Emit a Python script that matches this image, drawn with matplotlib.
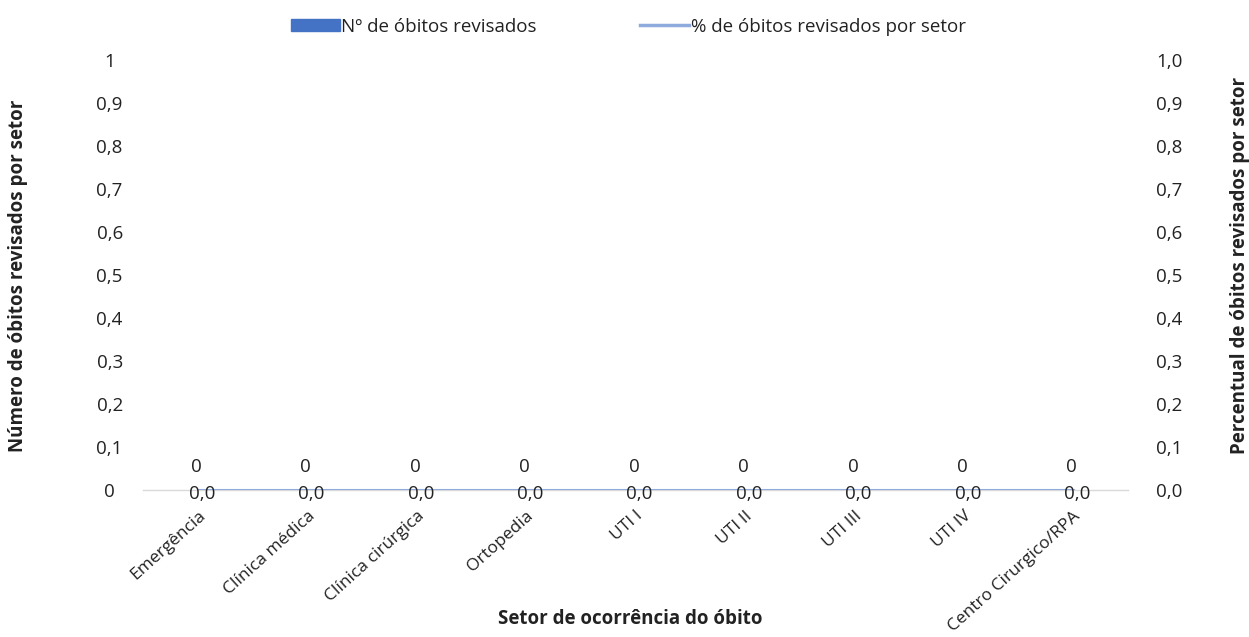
import matplotlib.pyplot as plt
from matplotlib.lines import Line2D
from matplotlib.patches import Patch

plt.rcParams['font.family'] = ['Open Sans', 'DejaVu Sans']

setores = ["Emergência", "Clínica médica", "Clínica cirúrgica", "Ortopedia",
           "UTI I", "UTI II", "UTI III", "UTI IV", "Centro Cirurgico/RPA"]
obitos_revisados = [0, 0, 0, 0, 0, 0, 0, 0, 0]
pct_revisados = [0.0, 0.0, 0.0, 0.0, 0.0, 0.0, 0.0, 0.0, 0.0]

left_ticks = [0, 0.1, 0.2, 0.3, 0.4, 0.5, 0.6, 0.7, 0.8, 0.9, 1]
right_ticks = [0.0, 0.1, 0.2, 0.3, 0.4, 0.5, 0.6, 0.7, 0.8, 0.9, 1.0]

bar_color = "#4472C4"
line_color = "#8FAADC"
text_color = "#222222"
fs = 13.5

fig = plt.figure(figsize=(12.49, 6.37), dpi=100)
ax = fig.add_axes([0.1145, 0.2308, 0.7885, 0.6752])
ax2 = ax.twinx()

x = list(range(len(setores)))
ax.bar(x, obitos_revisados, width=0.5, color=bar_color, zorder=2)
ax2.plot(x, pct_revisados, color=line_color, linewidth=2.2, zorder=3)

ax.set_xlim(-0.5, len(setores) - 0.5)
ax.set_ylim(0, 1)
ax2.set_ylim(0, 1)

ax.set_yticks(left_ticks)
ax.set_yticklabels([f"{v:g}".replace(".", ",") for v in left_ticks], ha="center")
ax2.set_yticks(right_ticks)
ax2.set_yticklabels([f"{v:.1f}".replace(".", ",") for v in right_ticks], ha="center")

ax.set_xticks(x)
ax.set_xticklabels(setores, rotation=42, ha="right", rotation_mode="anchor",
                   fontsize=12.5)

for a in (ax, ax2):
    for s in a.spines.values():
        s.set_visible(False)
    a.tick_params(axis="y", length=0, labelsize=fs, colors=text_color)
ax.tick_params(axis="x", length=0, colors=text_color, pad=13)
ax.tick_params(axis="y", pad=24)
ax2.tick_params(axis="y", pad=30)
ax.spines["bottom"].set_visible(True)
ax.spines["bottom"].set_color("#D9D9D9")
ax.spines["bottom"].set_linewidth(1)

for xi, v in zip(x, obitos_revisados):
    ax.annotate(f"{v}", (xi, v), xytext=(-1, 16.5), textcoords="offset points",
                ha="center", va="center", fontsize=fs, color=text_color)
for xi, v in zip(x, pct_revisados):
    ax2.annotate(f"{v:.1f}".replace(".", ","), (xi, v), xytext=(3, -3),
                 textcoords="offset points", ha="center", va="center",
                 fontsize=fs, color=text_color, zorder=4)

fig.text(0.0144, 0.567, "Número de óbitos revisados por setor", rotation=90,
         ha="center", va="center", fontsize=fs, fontweight="bold", color=text_color)
fig.text(0.9928, 0.584, "Percentual de óbitos revisados por setor", rotation=90,
         ha="center", va="center", fontsize=fs, fontweight="bold", color=text_color)
fig.text(0.505, 0.028, "Setor de ocorrência do óbito", ha="center", va="center",
         fontsize=fs, fontweight="bold", color=text_color)

handles = [Patch(facecolor=bar_color, edgecolor=bar_color),
           Line2D([0], [0], color=line_color, linewidth=2.5)]
fig.legend(handles, ["Nº de óbitos revisados", "% de óbitos revisados por setor"],
           loc="center", bbox_to_anchor=(0.503, 0.958), ncol=2, frameon=False,
           fontsize=fs, handlelength=2.6, handleheight=0.6, handletextpad=0.1,
           columnspacing=5.5, labelcolor=text_color)

fig.savefig("out.png", dpi=100, facecolor="white")
